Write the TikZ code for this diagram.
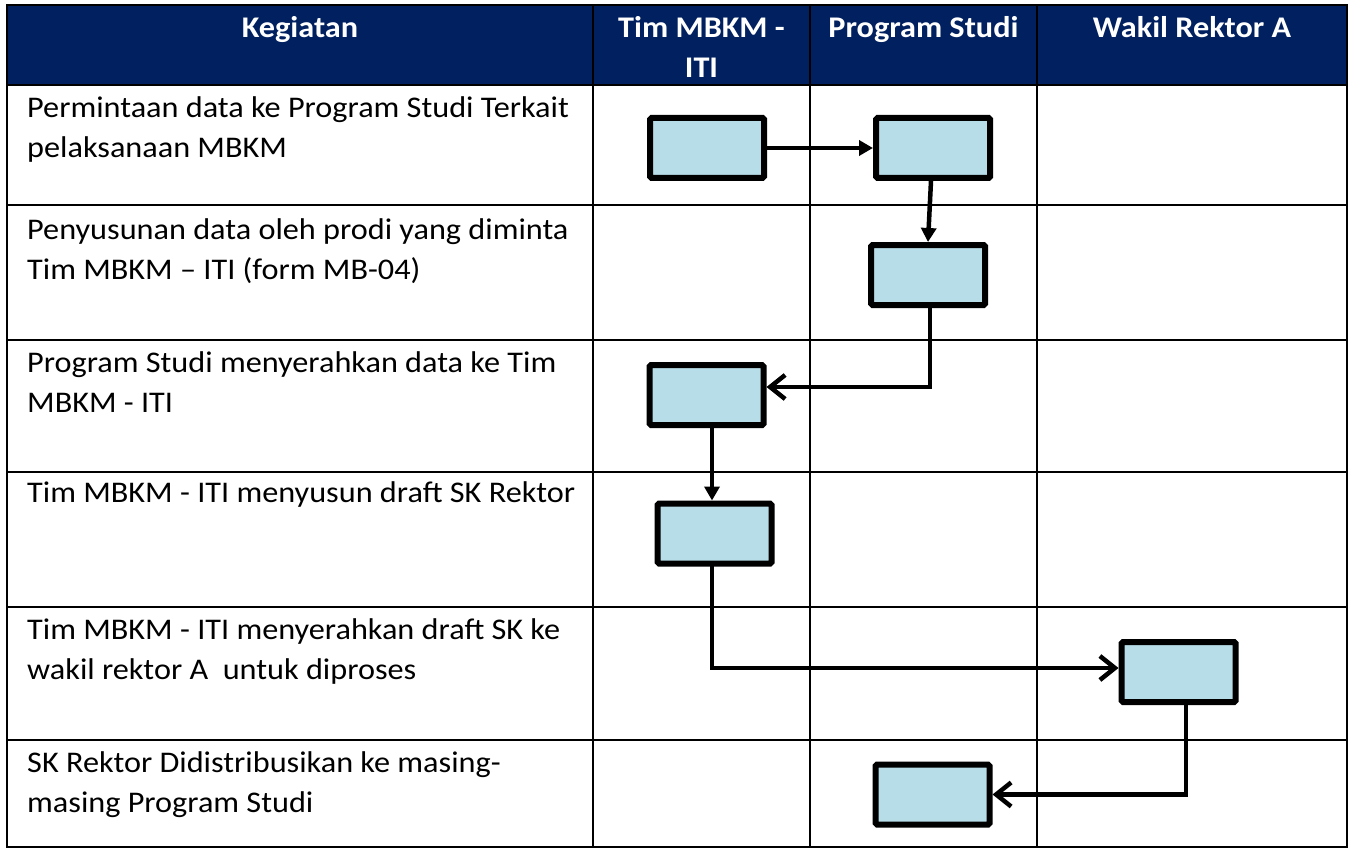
\documentclass[tikz,border=0pt]{standalone}
\usepackage{fontspec}
\setmainfont[FakeStretch=1.075]{Carlito}
\usetikzlibrary{arrows.meta}
\definecolor{hdr}{RGB}{0,32,96}
\definecolor{boxfill}{RGB}{183,221,232}
\begin{document}
\begin{tikzpicture}[x=1pt,y=-1pt,
  gridline/.style={line width=2.2pt, black},
  hdrtext/.style={text=white, font=\bfseries\fontsize{30}{40}\selectfont, align=center, anchor=north, inner sep=0pt},
  bodytext/.style={font=\fontsize{30}{40}\selectfont, align=left, anchor=north west, inner sep=0pt},
  actbox/.style={draw, line width=6pt, fill=boxfill, minimum width=114pt, minimum height=60pt, rounded corners=1.5pt, inner sep=0pt},
  flow/.style={line width=4.5pt, line cap=rect},
  solidtip/.style={-{Triangle[length=14pt,width=15pt]}},
  opentip/.style={-{Straight Barb[length=15pt,width=24pt]}}
]
\useasboundingbox (0,0) rectangle (1353,848);
% header background
\fill[hdr] (7,5) rectangle (1347,85);
% grid
\draw[gridline] (7,5) rectangle (1347,847);
\foreach \y in {85,205,340,472,607,740} \draw[gridline] (7,\y) -- (1347,\y);
\foreach \x in {593,810,1037} \draw[gridline] (\x,5) -- (\x,847);
% header texts
\node[hdrtext] (h1) at (300,9) {\strut Kegiatan};
\node[hdrtext] (h2) at (701.5,9) {\strut Tim MBKM -\\ITI};
\node[hdrtext] (h3) at (923.5,9) {\strut Program Studi};
\node[hdrtext] (h4) at (1192,9) {\strut Wakil Rektor A};
% body texts
\node[bodytext] (t1) at (27,89) {\strut Permintaan data ke Program Studi Terkait\\pelaksanaan MBKM};
\node[bodytext] (t2) at (27,211) {\strut Penyusunan data oleh prodi yang diminta\\Tim MBKM – ITI (form MB-04)};
\node[bodytext] (t3) at (27,344) {\strut Program Studi menyerahkan data ke Tim\\MBKM - ITI};
\node[bodytext] (t4) at (27,474) {\strut Tim MBKM - ITI menyusun draft SK Rektor};
\node[bodytext] (t5) at (27,611) {\strut Tim MBKM - ITI menyerahkan draft SK ke\\wakil rektor A\ \ untuk diproses};
\node[bodytext] (t6) at (27,744) {\strut SK Rektor Didistribusikan ke masing-\\masing Program Studi};
% activity boxes
\node[actbox] (A) at (707,148) {};
\node[actbox] (B) at (933,148) {};
\node[actbox] (B2) at (928,275) {};
\node[actbox] (C) at (706.5,395) {};
\node[actbox] (D) at (714.5,533.5) {};
\node[actbox] (E) at (1178.5,672) {};
\node[actbox] (F) at (932.5,794.5) {};
% connectors
\draw[flow,solidtip] (A.east) -- (B.west);
\draw[flow,solidtip] ([xshift=-2pt]B.south) -- (B2.north);
\draw[flow,opentip] ([xshift=2pt]B2.south) |- ([yshift=8pt]C.east);
\draw[flow,solidtip] ([xshift=-2.5pt]D.north |- C.south) -- ([xshift=-2.5pt]D.north);
\draw[flow,opentip] ([xshift=-2.5pt]D.south) |- ([yshift=4pt]E.west);
\draw[flow,opentip] ([xshift=7.5pt]E.south) |- (F.east);
\end{tikzpicture}
\end{document}
